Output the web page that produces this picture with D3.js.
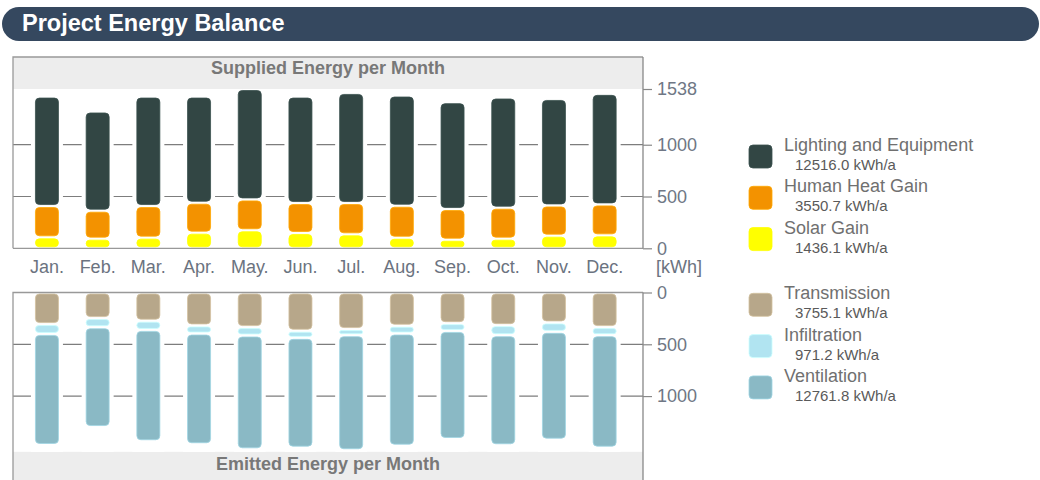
<!DOCTYPE html>
<html>
<head>
<meta charset="utf-8">
<script src="https://cdn.jsdelivr.net/npm/d3@7"></script>
<style>
  body { margin: 0; background: #fff; }
  text { font-family: "Liberation Sans", Arial, sans-serif; }
</style>
</head>
<body>
<script>
var months = ['Jan.', 'Feb.', 'Mar.', 'Apr.', 'May.', 'Jun.', 'Jul.', 'Aug.', 'Sep.', 'Oct.', 'Nov.', 'Dec.'];

// supplied energy per month [kWh]
var solarGain = [106, 93, 103, 151, 174, 148, 135, 102, 83, 93, 122, 125];
var humanHeat = [302, 270, 305, 289, 298, 289, 302, 309, 296, 299, 292, 299];
var lighting = [1057, 958, 1057, 1025, 1066, 1028, 1063, 1064, 1032, 1064, 1028, 1067];

// emitted energy per month [kWh]
var transmission = [305, 247, 272, 318, 334, 369, 353, 321, 296, 315, 289, 334];
var infiltration = [95, 88, 89, 78, 81, 69, 59, 75, 75, 97, 91, 78];
var ventilation = [1072, 964, 1075, 1069, 1099, 1060, 1111, 1083, 1043, 1063, 1041, 1086];

var supplyNames = ['Lighting and Equipment', 'Human Heat Gain', 'Solar Gain'];
var supplyTotals = [12516.0, 3550.7, 1436.1];
var emitNames = ['Transmission', 'Infiltration', 'Ventilation'];
var emitTotals = [3755.1, 971.2, 12761.8];

var topTicks = [0, 500, 1000, 1538];
var bottomTicks = [0, 500, 1000];
var gridValues = [500, 1000];
var yMax = 1538;

var colLighting = '#324644', colHuman = '#f39200', colSolar = '#ffff00';
var colTrans = '#b7a78a', colInfil = '#b1e4f1', colVent = '#8ab9c5';

var svg = d3.select("body").append("svg").attr("width", 1040).attr("height", 480);

// header
svg.append("rect").attr("x", 2).attr("y", 7).attr("width", 1037).attr("height", 34)
      .attr("rx", 17).attr("fill", "#35485f");
svg.append("text").attr("x", 22).attr("y", 31).attr("fill", "#fff")
      .attr("font-size", 23.5).attr("font-weight", "bold").text("Project Energy Balance");

var left = 13, right = 643;
var x = d3.scaleBand().domain(months).range([21.6, 630]).padding(0);
var barW = 24;
function cx(m) { return x(m) + x.bandwidth() / 2; }

var yTop = d3.scaleLinear().domain([0, yMax]).range([248.3, 89]);
var yBot = d3.scaleLinear().domain([0, yMax]).range([292.5, 451.8]);

// grey title bands
svg.append("rect").attr("x", left).attr("y", 57).attr("width", right - left).attr("height", yTop(yMax) - 57)
      .attr("fill", "#ededed");
svg.append("rect").attr("x", left).attr("y", yBot(yMax)).attr("width", right - left).attr("height", 40)
      .attr("fill", "#ededed");
svg.append("text").attr("x", (left + right) / 2).attr("y", 74).attr("text-anchor", "middle")
      .attr("font-size", 18).attr("font-weight", "bold").attr("fill", "#787878").text("Supplied Energy per Month");
svg.append("text").attr("x", (left + right) / 2).attr("y", 470).attr("text-anchor", "middle")
      .attr("font-size", 18).attr("font-weight", "bold").attr("fill", "#787878").text("Emitted Energy per Month");

// gridlines
svg.selectAll("line.gtop").data(gridValues).enter().append("line").attr("class", "gtop")
      .attr("x1", left).attr("x2", right)
      .attr("y1", function (d) { return yTop(d); }).attr("y2", function (d) { return yTop(d); })
      .attr("stroke", "#7d7d7d").attr("stroke-width", 1.2);
svg.selectAll("line.gbot").data(gridValues).enter().append("line").attr("class", "gbot")
      .attr("x1", left).attr("x2", right)
      .attr("y1", function (d) { return yBot(d); }).attr("y2", function (d) { return yBot(d); })
      .attr("stroke", "#7d7d7d").attr("stroke-width", 1.2);

// white gaps around the bars
svg.selectAll("rect.halo").data(months).enter().append("rect").attr("class", "halo")
      .attr("x", function (d) { return cx(d) - 16; }).attr("width", 32)
      .attr("y", yTop(yMax)).attr("height", yTop(0) - yTop(yMax) - 1)
      .attr("fill", "#fff");
svg.selectAll("rect.halo2").data(months).enter().append("rect").attr("class", "halo2")
      .attr("x", function (d) { return cx(d) - 16; }).attr("width", 32)
      .attr("y", yBot(0) + 1).attr("height", yBot(yMax) - yBot(0) - 1)
      .attr("fill", "#fff");

// stacked segments
var supplyStack = d3.stack().keys(['solar', 'human', 'light'])(months.map(function (m, i) {
  return { month: m, solar: solarGain[i], human: humanHeat[i], light: lighting[i] };
}));
var emitStack = d3.stack().keys(['trans', 'infil', 'vent'])(months.map(function (m, i) {
  return { month: m, trans: transmission[i], infil: infiltration[i], vent: ventilation[i] };
}));
var supplyColors = [colSolar, colHuman, colLighting];
var emitColors = [colTrans, colInfil, colVent];

function drawStack(stack, colors, y, down) {
  stack.forEach(function (layer, k) {
    svg.append("g").selectAll("rect")
      .data(layer)
      .enter().append("rect")
      .attr("x", function (d) { return cx(d.data.month) - barW / 2 + 0.5; })
      .attr("width", barW - 1)
      .attr("y", function (d) { return (down ? y(d[0]) : y(d[1])) + 1.5; })
      .attr("height", function (d) { return Math.max(0, Math.abs(y(d[1]) - y(d[0])) - 3); })
      .attr("rx", function (d) { return Math.min(4, (Math.abs(y(d[1]) - y(d[0])) - 3) / 2); })
      .attr("fill", colors[k])
      .attr("stroke", d3.color(colors[k]).brighter(0.4))
      .attr("stroke-width", 0.8);
  });
}
drawStack(supplyStack, supplyColors, yTop, false);
drawStack(emitStack, emitColors, yBot, true);

// frames
var frame = "#999";
svg.append("path").attr("d", "M" + left + "," + 480 + "V" + yBot(0) + "H" + right)
      .attr("fill", "none").attr("stroke", frame).attr("stroke-width", 1.3);
svg.append("path").attr("d", "M" + left + "," + yTop(0) + "V57H" + right)
      .attr("fill", "none").attr("stroke", frame).attr("stroke-width", 1.3);
svg.append("line").attr("x1", left).attr("x2", right).attr("y1", yTop(0)).attr("y2", yTop(0))
      .attr("stroke", frame).attr("stroke-width", 1.3);

// right axes
var axisTop = svg.append("g").attr("transform", "translate(" + right + ",0)")
      .call(d3.axisRight(yTop).tickValues(topTicks).tickSize(9).tickPadding(5).tickFormat(d3.format("d")));
var axisBot = svg.append("g").attr("transform", "translate(" + right + ",0)")
      .call(d3.axisRight(yBot).tickValues(bottomTicks).tickSize(9).tickPadding(5).tickFormat(d3.format("d")));
[axisTop, axisBot].forEach(function (a) {
  a.select(".domain").remove();
  a.selectAll(".tick line").attr("stroke", "#888").attr("stroke-width", 1.2);
  a.selectAll(".tick text").attr("font-size", 18).attr("fill", "#6f7785")
    .attr("font-family", "'Liberation Sans', Arial, sans-serif");
});
svg.append("line").attr("x1", right).attr("x2", right).attr("y1", 57).attr("y2", yTop(0))
      .attr("stroke", "#888").attr("stroke-width", 1.3);
svg.append("line").attr("x1", right).attr("x2", right).attr("y1", yBot(0)).attr("y2", 480)
      .attr("stroke", "#888").attr("stroke-width", 1.3);

// month labels
svg.selectAll("text.month").data(months).enter().append("text").attr("class", "month")
      .attr("x", function (d) { return cx(d); }).attr("y", 273)
      .attr("text-anchor", "middle").attr("font-size", 18).attr("fill", "#6b7380")
      .text(function (d) { return d; });
svg.append("text").attr("x", 656).attr("y", 273).attr("font-size", 18).attr("fill", "#6b7380").text("[kWh]");

// legends
function legend(names, totals, colors, top0) {
  var g = svg.append("g");
  g.selectAll("rect").data(names).enter().append("rect")
    .attr("x", 749).attr("y", function (d, i) { return top0 + i * 41.3; })
    .attr("width", 23).attr("height", 23).attr("rx", 4)
    .attr("fill", function (d, i) { return colors[i]; })
    .attr("stroke", function (d, i) { return d3.color(colors[i]).brighter(0.4); })
    .attr("stroke-width", 0.8);
  g.selectAll("text.name").data(names).enter().append("text").attr("class", "name")
    .attr("x", 784).attr("y", function (d, i) { return top0 + i * 41.3 + 6; })
    .attr("font-size", 18).attr("fill", "#707070").text(function (d) { return d; });
  g.selectAll("text.total").data(totals).enter().append("text").attr("class", "total")
    .attr("x", 795).attr("y", function (d, i) { return top0 + i * 41.3 + 25; })
    .attr("font-size", 15).attr("fill", "#5a5a5a").text(function (d) { return d.toFixed(1) + " kWh/a"; });
}
legend(supplyNames, supplyTotals, [colLighting, colHuman, colSolar], 145);
legend(emitNames, emitTotals, [colTrans, colInfil, colVent], 293.3);
</script>
</body>
</html>
